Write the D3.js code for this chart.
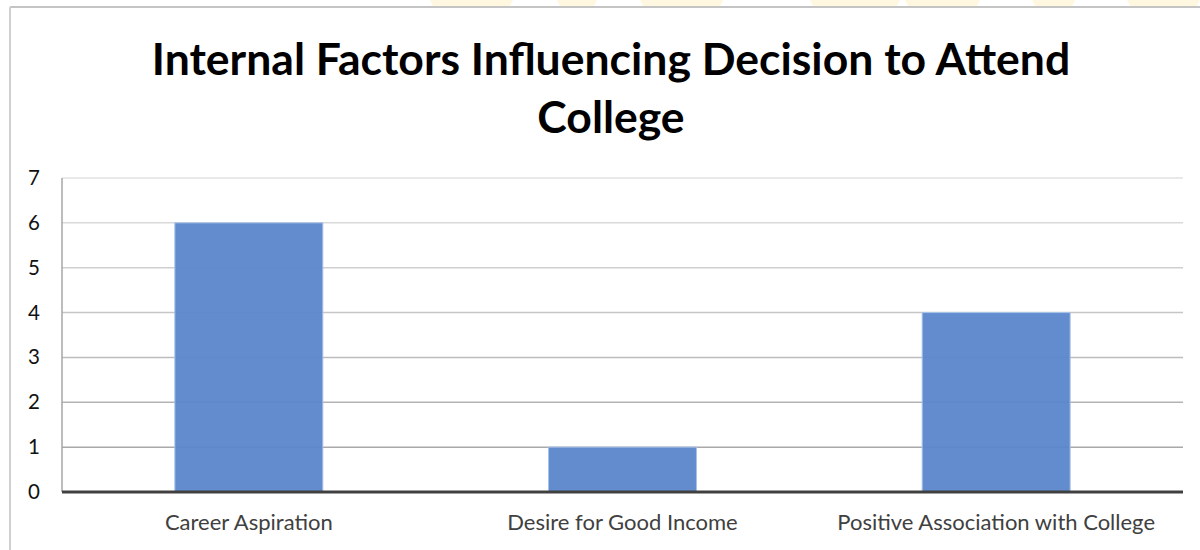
<!DOCTYPE html>
<html>
<head>
<meta charset="utf-8">
<script src="https://cdn.jsdelivr.net/npm/d3@7"></script>
<style>
  html, body { margin: 0; padding: 0; background: #ffffff; }
  svg { display: block; }
  text { font-family: Lato, "Open Sans", sans-serif; }
</style>
</head>
<body>
<svg id="chart" width="1200" height="550"></svg>
<script>
// Chart data
const categories = ["Career Aspiration", "Desire for Good Income", "Positive Association with College"];
const counts = [6, 1, 4];
const yTicks = [0, 1, 2, 3, 4, 5, 6, 7];
const titleLines = ["Internal Factors Influencing Decision to Attend", "College"];

const svg = d3.select("#chart");
const W = 1200, H = 550;
const plot = { left: 62, right: 1183, top: 178, bottom: 492 };

// Faint highlight shapes along the very top edge
const topBands = [[430, 513], [557, 597], [640, 723], [810, 900], [905, 980], [1032, 1075], [1127, 1200]];
svg.append("g").selectAll("path").data(topBands).join("path")
  .attr("d", d => `M${d[0]},0 L${d[1]},0 L${d[1] - 3},6 L${d[0] + 3},6 Z`)
  .attr("fill", "#fff7e0");

// Frame lines (top and left)
svg.append("line").attr("x1", 10).attr("x2", W).attr("y1", 7).attr("y2", 7)
  .attr("stroke", "#c4c4c4").attr("stroke-width", 2);
svg.append("line").attr("x1", 10).attr("x2", 10).attr("y1", 7).attr("y2", H)
  .attr("stroke", "#d0d0d0").attr("stroke-width", 2);

// Title
svg.append("g").selectAll("text").data(titleLines).join("text")
  .attr("x", 611)
  .attr("y", (d, i) => 75 + i * 58)
  .attr("text-anchor", "middle")
  .attr("font-weight", 700)
  .attr("font-size", 44.5)
  .attr("fill", "#000")
  .text(d => d);

// Scales
const x = d3.scaleBand().domain(categories)
  .range([plot.left, plot.right])
  .paddingInner(0.604).paddingOuter(0.302);
const y = d3.scaleLinear().domain([0, 7]).range([plot.bottom, plot.top]);

// Gridlines (slightly darker toward the baseline)
const gridColor = d3.scaleLinear().domain([1, 7]).range(["#a9a9a9", "#e2e2e2"]);
svg.append("g").selectAll("line").data(yTicks.filter(t => t > 0)).join("line")
  .attr("x1", plot.left).attr("x2", plot.right)
  .attr("y1", d => y(d)).attr("y2", d => y(d))
  .attr("stroke", d => gridColor(d)).attr("stroke-width", 1.5);

// Vertical axis line
svg.append("line").attr("x1", plot.left).attr("x2", plot.left)
  .attr("y1", y(7)).attr("y2", y(0))
  .attr("stroke", "#a6a6a6").attr("stroke-width", 1.5);

// Bars
svg.append("g").selectAll("rect").data(categories).join("rect")
  .attr("x", d => x(d))
  .attr("y", (d, i) => y(counts[i]))
  .attr("width", x.bandwidth())
  .attr("height", (d, i) => y(0) - y(counts[i]))
  .attr("fill", "#5a86cb")
  .attr("fill-opacity", 0.95)
  .attr("stroke", "#a9c1e8")
  .attr("stroke-width", 1);

// Baseline
svg.append("line").attr("x1", plot.left).attr("x2", plot.right)
  .attr("y1", y(0)).attr("y2", y(0))
  .attr("stroke", "#404040").attr("stroke-width", 3);

// Y axis labels
const yAxis = d3.axisLeft(y).tickValues(yTicks).tickSize(0).tickPadding(0).tickFormat(d3.format("d"));
const gy = svg.append("g").attr("transform", "translate(40,0)").call(yAxis);
gy.select(".domain").remove();
gy.selectAll("text").attr("font-size", 20.5).attr("fill", "#111").attr("font-family", "Lato, sans-serif");

// X axis labels
const xAxis = d3.axisBottom(x).tickSize(0).tickPadding(0);
const gx = svg.append("g").attr("transform", `translate(0,${plot.bottom})`).call(xAxis);
gx.select(".domain").remove();
gx.selectAll("text").attr("font-size", 22).attr("fill", "#404040")
  .attr("font-family", "Lato, sans-serif").attr("dy", null).attr("y", 38);
</script>
</body>
</html>
